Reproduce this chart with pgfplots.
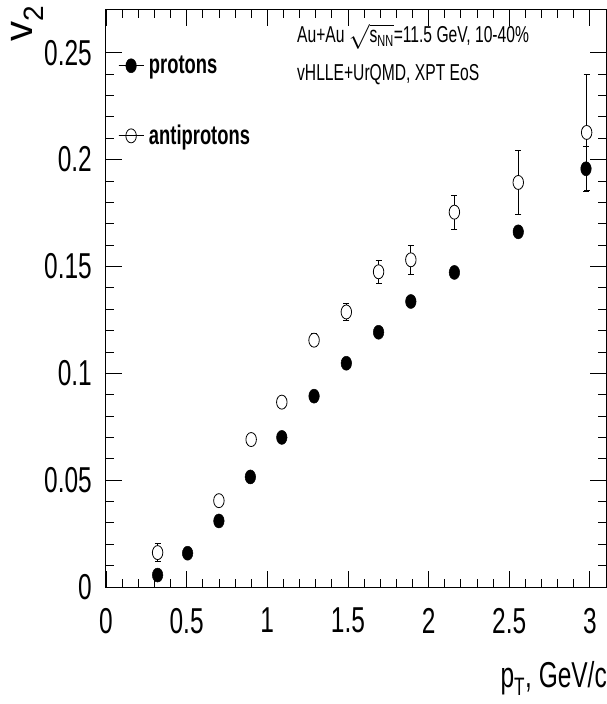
\documentclass[border=0pt]{standalone}
\usepackage{fontspec}
\setmainfont{Liberation Sans}[FakeStretch=0.68]
\newfontfamily\vfont{Liberation Sans}
\usepackage{pgfplots}
\pgfplotsset{compat=1.18}
\pgfplotstableread{
x y e
0.32 0.0056 0.002
0.506 0.0158 0.0015
0.70 0.0309 0.0015
0.895 0.0515 0.0015
1.09 0.0700 0.0015
1.29 0.0893 0.0015
1.49 0.1047 0.0015
1.69 0.1192 0.0015
1.89 0.1336 0.0015
2.16 0.1472 0.0015
2.556 0.1662 0.002
2.976 0.1957 0.0105
}\protons
\pgfplotstableread{
x y e
0.32 0.0161 0.0042
0.70 0.0404 0.002
0.90 0.0690 0.002
1.09 0.0865 0.002
1.29 0.1155 0.003
1.49 0.1287 0.004
1.69 0.1475 0.0055
1.89 0.1531 0.0069
2.16 0.1754 0.0079
2.556 0.1893 0.0148
2.98 0.2127 0.0273
}\antiprotons
\begin{document}
\begin{tikzpicture}
\useasboundingbox (-106pt,-117pt) rectangle (501pt,587pt);
\begin{axis}[
  at={(0pt,0pt)}, anchor=south west,
  scale only axis, width=500pt, height=577pt,
  xmin=0, xmax=3.1, ymin=0, ymax=0.27,
  xtick={0,0.5,1,1.5,2,2.5,3}, xticklabels={0,0.5,1,1.5,2,2.5,3},
  ytick={0,0.05,0.1,0.15,0.2,0.25}, yticklabels={0,0.05,0.1,0.15,0.2,0.25},
  minor x tick num=4, minor y tick num=4,
  tick align=inside, tick pos=both,
  major tick length=16pt, minor tick length=8pt,
  axis line style={line width=1pt},
  every tick/.style={black, line width=0.8pt},
  tick label style={font=\fontsize{36}{36}\selectfont},
  xticklabel style={inner sep=0pt, anchor=north, yshift=-21pt},
  yticklabel style={inner sep=0pt, anchor=east, xshift=-14pt},
  xlabel={p\textsubscript{T}, GeV/c},
  every axis x label/.style={at={(rel axis cs:1,0)}, anchor=base east, inner sep=0pt, yshift=-100pt, xshift=1pt, font=\fontsize{36}{36}\selectfont},
  ylabel={v\textsubscript{2}},
  every axis y label/.style={at={([xshift=-73pt,yshift=5pt]rel axis cs:0,1)}, rotate=90, anchor=base east, inner sep=0pt, font=\vfont\fontsize{40}{40}\selectfont},
  legend style={at={([xshift=12pt,yshift=-46pt]rel axis cs:0,1)}, anchor=north west, draw=none, fill=none,
    font=\bfseries\fontsize{27}{27}\selectfont, row sep=50pt, inner sep=0pt, nodes={inner sep=0pt}, column sep=5pt},
  legend cell align=left,
  legend image code/.code={
    \draw[black, line width=0.8pt] (0pt,0pt) -- (25pt,0pt);
    \draw[#1] plot coordinates {(12.5pt,0pt)};
    \draw[black, line width=0.8pt] (0pt,0pt) -- (25pt,0pt);
  },
]
\addplot[black, only marks, mark=*, mark size=7pt, mark options={xscale=0.75, fill=black, draw=black, line width=0.5pt},
  error bars/.cd, y dir=both, y explicit, error bar style={line width=0.8pt, black}, error mark options={rotate=90, mark size=3pt, line width=0.8pt, black}]
  table[x=x, y=y, y error=e] {\protons};
\addlegendentry{protons}
\addplot[black, only marks, mark=*, mark size=7pt, mark options={xscale=0.75, fill=white, draw=black, line width=0.8pt},
  error bars/.cd, y dir=both, y explicit, error bar style={line width=0.8pt, black}, error mark options={rotate=90, mark size=3pt, line width=0.8pt, black}]
  table[x=x, y=y, y error=e] {\antiprotons};
\addlegendentry{antiprotons}
\node[anchor=base west, inner sep=0pt, font=\fontsize{23}{23}\selectfont] at (axis cs:1.184,0.2548) {Au+Au $\sqrt{\hbox{s\textsubscript{NN}}}$=11.5 GeV, 10-40\%};
\node[anchor=base west, inner sep=0pt, font=\fontsize{23}{23}\selectfont] at (axis cs:1.184,0.2369) {vHLLE+UrQMD, XPT EoS};
\end{axis}
\end{tikzpicture}
\end{document}
